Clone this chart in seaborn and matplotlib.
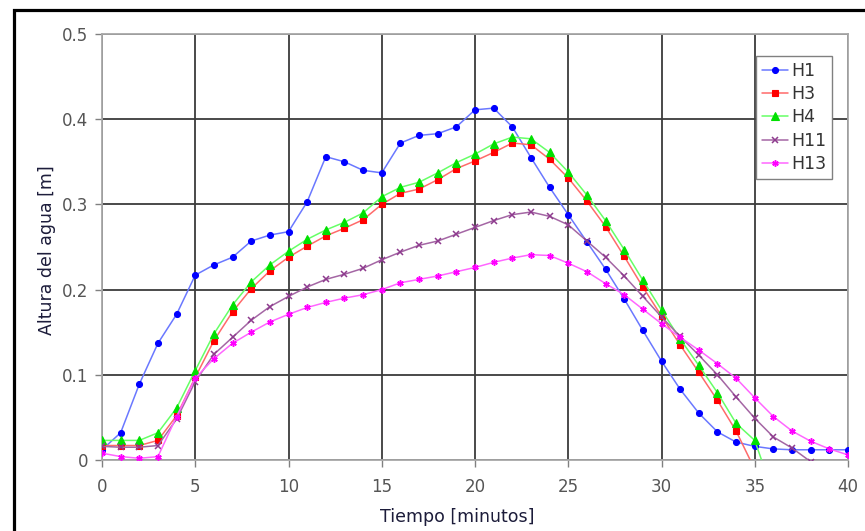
import numpy as np
import pandas as pd
import matplotlib
matplotlib.use("Agg")
import matplotlib.pyplot as plt
from matplotlib.patches import Rectangle
import seaborn as sns

# ---------------- data ----------------
tiempo = list(range(0, 41))
H1 = [0.012, 0.032, 0.089, 0.137, 0.171, 0.217, 0.229, 0.238, 0.257, 0.264,
      0.268, 0.303, 0.356, 0.350, 0.340, 0.337, 0.372, 0.381, 0.383, 0.391,
      0.411, 0.413, 0.391, 0.355, 0.320, 0.288, 0.256, 0.224, 0.189, 0.152,
      0.116, 0.083, 0.055, 0.033, 0.021, 0.016, 0.013, 0.012, 0.012, 0.012,
      0.012]
H3 = [0.017, 0.017, 0.017, 0.023, 0.052, 0.097, 0.140, 0.174, 0.201, 0.222,
      0.238, 0.251, 0.263, 0.272, 0.282, 0.300, 0.313, 0.318, 0.329, 0.342,
      0.351, 0.361, 0.372, 0.370, 0.353, 0.331, 0.304, 0.274, 0.239, 0.203,
      0.169, 0.135, 0.103, 0.070, 0.034, -0.011]
H4 = [0.023, 0.023, 0.023, 0.032, 0.061, 0.105, 0.148, 0.182, 0.209, 0.229,
      0.245, 0.259, 0.270, 0.279, 0.290, 0.309, 0.320, 0.326, 0.337, 0.349,
      0.359, 0.371, 0.379, 0.377, 0.361, 0.338, 0.311, 0.281, 0.247, 0.211,
      0.176, 0.142, 0.111, 0.079, 0.043, 0.023, -0.040]
H11 = [0.016, 0.015, 0.015, 0.017, 0.048, 0.092, 0.124, 0.144, 0.164, 0.180,
       0.192, 0.203, 0.212, 0.218, 0.225, 0.235, 0.244, 0.252, 0.257, 0.265,
       0.273, 0.281, 0.288, 0.291, 0.286, 0.276, 0.257, 0.238, 0.216, 0.192,
       0.168, 0.145, 0.123, 0.100, 0.074, 0.049, 0.027, 0.014, -0.002]
H13 = [0.008, 0.004, 0.002, 0.004, 0.051, 0.096, 0.119, 0.137, 0.150, 0.162,
       0.171, 0.179, 0.185, 0.190, 0.194, 0.200, 0.208, 0.212, 0.216, 0.221,
       0.226, 0.232, 0.237, 0.241, 0.240, 0.231, 0.221, 0.207, 0.194, 0.177,
       0.160, 0.144, 0.129, 0.113, 0.096, 0.073, 0.051, 0.034, 0.022, 0.013,
       0.006]

series_names = ["H1", "H3", "H4", "H11", "H13"]
series_values = [H1, H3, H4, H11, H13]

x_ticks = [0, 5, 10, 15, 20, 25, 30, 35, 40]
x_ticklabels = ["0", "5", "10", "15", "20", "25", "30", "35", "40"]
y_ticks = [0.0, 0.1, 0.2, 0.3, 0.4, 0.5]
y_ticklabels = ["0", "0.1", "0.2", "0.3", "0.4", "0.5"]

x_label = "Tiempo [minutos]"
y_label = "Altura del agua [m]"

# ---------------- style ----------------
sns.set_style("white")
plt.rcParams["font.family"] = ["DejaVu Sans"]

marker_colors = {"H1": "#0000ff", "H3": "#ff0000", "H4": "#00e000",
                 "H11": "#8e3b8e", "H13": "#ff00ff"}
line_colors = {"H1": "#6a78ff", "H3": "#ff6a6a", "H4": "#66ff66",
               "H11": "#a466a4", "H13": "#ff66ff"}
markers = {"H1": "o", "H3": "s", "H4": "^", "H11": "x", "H13": (6, 2, 0)}
msizes = {"H1": 4.3, "H3": 4.8, "H4": 5.3, "H11": 4.6, "H13": 4.6}

fig = plt.figure(figsize=(8.65, 5.31), dpi=100)
ax = fig.add_axes([102 / 865, 1 - 460 / 531, 746 / 865, 426 / 531])

for name, vals in zip(series_names, series_values):
    df = pd.DataFrame({"Tiempo": tiempo[:len(vals)], "Altura": vals})
    c = marker_colors[name]
    sns.lineplot(data=df, x="Tiempo", y="Altura", ax=ax, color=c,
                 marker=markers[name], markersize=msizes[name],
                 markerfacecolor=c, markeredgecolor=c,
                 markeredgewidth=1.1 if name in ("H11", "H13") else 0.8,
                 linewidth=1.1, label=name, estimator=None, zorder=3)
    ln = ax.lines[-1]
    ln.set_color(line_colors[name])

ax.set_xlim(0, 40)
ax.set_ylim(0, 0.5)
ax.set_xticks(x_ticks)
ax.set_xticklabels(x_ticklabels)
ax.set_yticks(y_ticks)
ax.set_yticklabels(y_ticklabels)

ax.grid(True, color="#3c3c3c", linewidth=1.3)
ax.set_axisbelow(True)
for sp in ax.spines.values():
    sp.set_visible(True)
    sp.set_color("#a8a8a8")
    sp.set_linewidth(1.3)

ax.tick_params(axis="both", direction="out", length=5, width=1.0,
               color="#808080", labelcolor="#555555", labelsize=12)
ax.tick_params(axis="x", pad=8)
ax.tick_params(axis="y", pad=5)
ax.tick_params(left=True, bottom=True)

ax.set_xlabel(x_label, fontsize=12.5, color="#1c1c3a")
ax.set_ylabel(y_label, fontsize=12.5, color="#1c1c3a")
ax.xaxis.set_label_coords((457 - 102) / 746, (460 - 508) / 426)
ax.yaxis.set_label_coords((56 - 102) / 746, (460 - 250) / 426)

leg = ax.legend(loc="upper right",
                bbox_to_anchor=((832 - 102) / 746, (460 - 56) / 426),
                borderaxespad=0, frameon=True, fancybox=False,
                edgecolor="#808080", framealpha=1, fontsize=12.5,
                handlelength=1.5, handletextpad=0.15, labelspacing=0.3,
                borderpad=0.35)
leg.get_frame().set_linewidth(1.0)
for t in leg.get_texts():
    t.set_color("#333333")

# outer frame of the original chart area
fig.patches.append(Rectangle((14 / 865, -0.1), 1.2, 1 - 10 / 531 + 0.1,
                             transform=fig.transFigure, fill=False,
                             edgecolor="black", linewidth=2.3))

fig.savefig("out.png", dpi=100)
